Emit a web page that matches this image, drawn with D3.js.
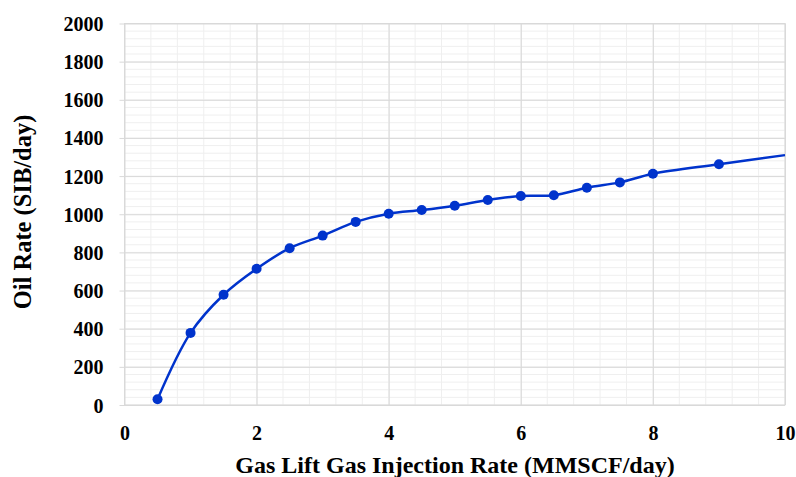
<!DOCTYPE html>
<html>
<head>
<meta charset="utf-8">
<script src="https://cdn.jsdelivr.net/npm/d3@7"></script>
<style>
  body { margin: 0; background: #fff; }
  text { font-family: "Liberation Serif", "Times New Roman", serif; font-weight: bold; fill: #000; }
</style>
</head>
<body>
<div id="chart"></div>
<script>
// data
const GAS_RATE = [0.5, 1, 1.5, 2, 2.5, 3, 3.5, 4, 4.5, 5, 5.5, 6, 6.5, 7, 7.5, 8, 9, 10];
const OIL_RATE = [30, 378, 578, 714, 822, 888, 960, 1003, 1022, 1045, 1075, 1096, 1100, 1139, 1167, 1212, 1262, 1310];
const MARKED = 17; // last point (x=10) has no marker, the line just runs to the edge
const X_TICKS = [0, 2, 4, 6, 8, 10];
const Y_TICKS = [0, 200, 400, 600, 800, 1000, 1200, 1400, 1600, 1800, 2000];
const X_TITLE = "Gas Lift Gas Injection Rate (MMSCF/day)";
const Y_TITLE = "Oil Rate (SIB/day)";

var width = 796, height = 477;
var pLeft = 124.5, pRight = 785, pTop = 23.5, pBottom = 405;

var svg = d3.select("#chart").append("svg")
    .attr("width", width).attr("height", height);

var x = d3.scaleLinear().domain([0, 10]).range([pLeft, pRight]);
var y = d3.scaleLinear().domain([0, 2000]).range([pBottom, pTop]);

// minor grid
svg.append("g").selectAll("line")
    .data(d3.range(0, 10.001, 0.4))
    .join("line")
    .attr("x1", d => x(d)).attr("x2", d => x(d))
    .attr("y1", pTop).attr("y2", pBottom)
    .attr("stroke", "#efefef").attr("stroke-width", 1);
svg.append("g").selectAll("line")
    .data(d3.range(0, 2001, 40))
    .join("line")
    .attr("x1", pLeft).attr("x2", pRight)
    .attr("y1", d => y(d)).attr("y2", d => y(d))
    .attr("stroke", "#efefef").attr("stroke-width", 1);

// major grid + ticks
var yAxis = d3.axisLeft(y).tickValues(Y_TICKS).tickFormat(d3.format("d")).tickSize(-(pRight - pLeft));
var gy = svg.append("g").attr("transform", "translate(" + pLeft + ",0)").call(yAxis);
gy.select(".domain").remove();
gy.selectAll("line").attr("stroke", "#d9d9d9").attr("x1", -5);
gy.selectAll("text").style("font-size", "20px").attr("x", -21).attr("dy", "0.35em");

var xAxis = d3.axisBottom(x).tickValues(X_TICKS).tickSize(-(pBottom - pTop));
var gx = svg.append("g").attr("transform", "translate(0," + pBottom + ")").call(xAxis);
gx.select(".domain").remove();
gx.selectAll("line").attr("stroke", "#d9d9d9");
gx.selectAll("text").style("font-size", "20px").attr("y", 21);

// frame
svg.append("rect")
    .attr("x", pLeft).attr("y", pTop)
    .attr("width", pRight - pLeft).attr("height", pBottom - pTop)
    .attr("fill", "none").attr("stroke", "#d9d9d9");

var pts = GAS_RATE.map((g, i) => [g, OIL_RATE[i]]);

var line = d3.line()
    .x(d => x(d[0]))
    .y(d => y(d[1]))
    .curve(d3.curveCatmullRom.alpha(0.5));

svg.append("path")
    .datum(pts)
    .attr("d", line)
    .attr("fill", "none")
    .attr("stroke", "#0033cc")
    .attr("stroke-width", 2.5);

svg.append("g").selectAll("circle")
    .data(pts.slice(0, MARKED))
    .join("circle")
    .attr("cx", d => x(d[0])).attr("cy", d => y(d[1]))
    .attr("r", 5)
    .attr("fill", "#0033cc");

// titles
svg.append("text")
    .attr("x", 455).attr("y", 473)
    .attr("text-anchor", "middle")
    .style("font-size", "24px")
    .text(X_TITLE);

svg.append("text")
    .attr("transform", "translate(31,212) rotate(-90)")
    .attr("text-anchor", "middle")
    .style("font-size", "24.5px")
    .text(Y_TITLE);
</script>
</body>
</html>
